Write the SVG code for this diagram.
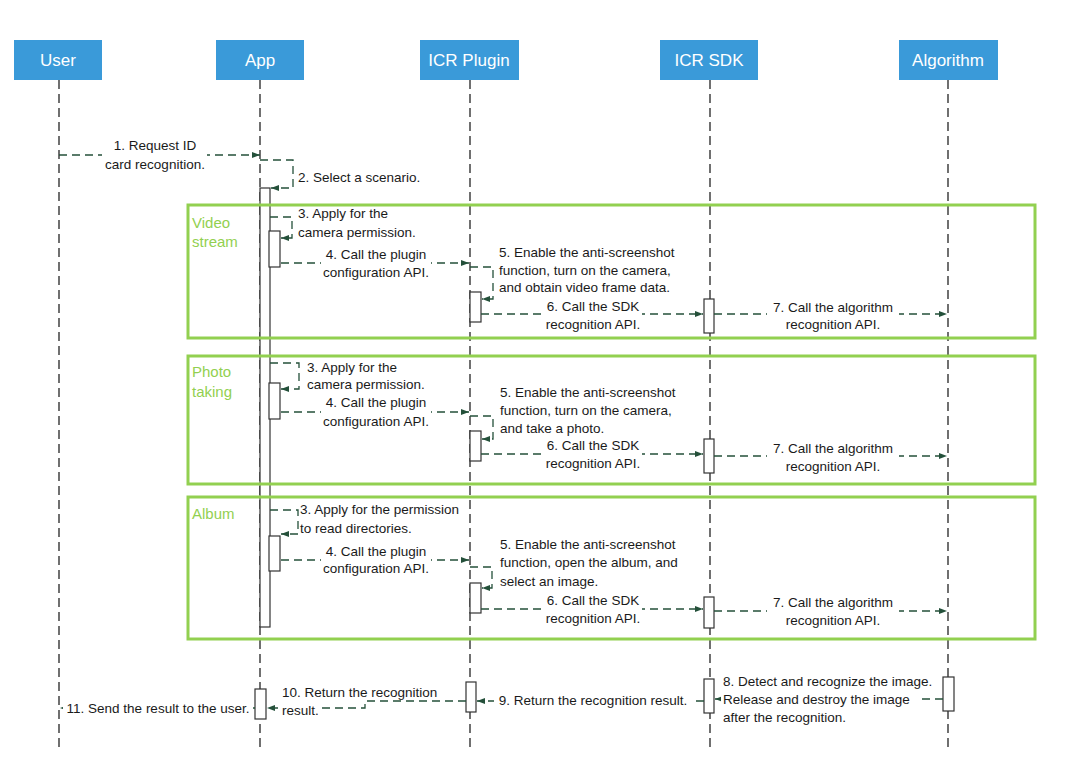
<svg xmlns="http://www.w3.org/2000/svg" width="1066" height="770" viewBox="0 0 1066 770">
<style>
.hdr{fill:#3a9ad9}
.hdrt{fill:#ffffff;font-family:"Liberation Sans",Arial,sans-serif;font-size:17px;text-anchor:middle}
.life{stroke:#111;stroke-width:1.2;stroke-dasharray:9 5;fill:none}
.act{fill:#ffffff;stroke:#333;stroke-width:1.2}
.frame{fill:none;stroke:#92d050;stroke-width:3}
.sec{fill:#92d050;font-family:"Liberation Sans",Arial,sans-serif;font-size:15px}
.msg{fill:none;stroke:#24503a;stroke-width:1.3;stroke-dasharray:8 5;marker-end:url(#ah)}
.lbl{fill:#1a1a1a;font-family:"Liberation Sans",Arial,sans-serif;font-size:13.5px}
.mid{text-anchor:middle}
.bg{fill:#ffffff}
</style>
<defs>
<marker id="ah" viewBox="0 0 8 6" refX="8" refY="3" markerWidth="8" markerHeight="6" markerUnits="userSpaceOnUse" orient="auto">
<path d="M0,0 L8,3 L0,6 z" fill="#24503a"/>
</marker>
</defs>
<rect width="1066" height="770" fill="#ffffff"/>

<g id="node-user">
<line class="life" x1="59" y1="80" x2="59" y2="752"/>
<rect class="hdr" x="14" y="40" width="88" height="40"/>
<text class="hdrt" x="58" y="66">User</text>
</g>
<g id="node-app">
<line class="life" x1="260" y1="80" x2="260" y2="752"/>
<rect class="hdr" x="216" y="40" width="88" height="40"/>
<text class="hdrt" x="260" y="66">App</text>
<rect class="act" x="260" y="188" width="10" height="439"/>
<rect class="act" x="269" y="231" width="11" height="36"/>
<rect class="act" x="269" y="383" width="11" height="36"/>
<rect class="act" x="269" y="536" width="11" height="35"/>
<rect class="act" x="255" y="689" width="11" height="30"/>
</g>
<g id="node-icr-plugin">
<line class="life" x1="470" y1="80" x2="470" y2="752"/>
<rect class="hdr" x="420" y="40" width="99" height="40"/>
<text class="hdrt" x="469" y="66">ICR Plugin</text>
<rect class="act" x="470" y="292" width="11" height="30"/>
<rect class="act" x="470" y="431" width="11" height="30"/>
<rect class="act" x="470" y="583" width="11" height="30"/>
<rect class="act" x="466" y="682" width="10" height="30"/>
</g>
<g id="node-icr-sdk">
<line class="life" x1="710" y1="80" x2="710" y2="752"/>
<rect class="hdr" x="660" y="40" width="98" height="40"/>
<text class="hdrt" x="709" y="66">ICR SDK</text>
<rect class="act" x="704" y="299" width="10" height="34"/>
<rect class="act" x="704" y="439" width="10" height="34"/>
<rect class="act" x="704" y="597" width="10" height="31"/>
<rect class="act" x="704" y="679" width="10" height="34"/>
</g>
<g id="node-algorithm">
<line class="life" x1="948" y1="80" x2="948" y2="752"/>
<rect class="hdr" x="899" y="40" width="99" height="40"/>
<text class="hdrt" x="948" y="66">Algorithm</text>
<rect class="act" x="943" y="677" width="11" height="34"/>
</g>

<g id="frame-video">
<rect class="frame" x="188" y="205" width="847" height="133"/>
<text class="sec" x="192" y="228">Video</text>
<text class="sec" x="192" y="247">stream</text>
</g>
<g id="frame-photo">
<rect class="frame" x="188" y="356" width="847" height="128"/>
<text class="sec" x="192" y="377">Photo</text>
<text class="sec" x="192" y="397">taking</text>
</g>
<g id="frame-album">
<rect class="frame" x="188" y="497" width="847" height="142"/>
<text class="sec" x="192" y="519">Album</text>
</g>

<g id="connectors">
<path class="msg" d="M59,155 H260"/>
<path class="msg" d="M260,160 H293 V188 H271"/>
<path class="msg" d="M270,217 H292 V238 H281"/>
<path class="msg" d="M281,263 H469"/>
<path class="msg" d="M470,267 H493 V299 H482"/>
<path class="msg" d="M481,314 H703"/>
<path class="msg" d="M714,314 H947"/>
<path class="msg" d="M270,363 H299 V389 H281"/>
<path class="msg" d="M281,412 H469"/>
<path class="msg" d="M470,416 H493 V439 H482"/>
<path class="msg" d="M481,454 H703"/>
<path class="msg" d="M714,456 H947"/>
<path class="msg" d="M270,510 H298 V534 H281"/>
<path class="msg" d="M281,560 H469"/>
<path class="msg" d="M470,567 H492 V588 H482"/>
<path class="msg" d="M481,609 H703"/>
<path class="msg" d="M714,611 H947"/>
<path class="msg" d="M943,699 H715"/>
<path class="msg" d="M704,701 H477"/>
<path class="msg" d="M466,701 H365 V708 H267"/>
<path class="msg" d="M255,708 H60"/>
</g>

<g id="labels">
<rect class="bg" x="102" y="138" width="105" height="35"/>
<text class="lbl mid" x="155" y="150">1. Request ID</text>
<text class="lbl mid" x="155" y="169">card recognition.</text>
<text class="lbl" x="298" y="182">2. Select a scenario.</text>

<text class="lbl" x="298" y="218">3. Apply for the</text>
<text class="lbl" x="298" y="237">camera permission.</text>
<rect class="bg" x="321" y="248" width="110" height="33"/>
<text class="lbl mid" x="376" y="259">4. Call the plugin</text>
<text class="lbl mid" x="376" y="277">configuration API.</text>
<text class="lbl" x="499" y="257">5. Enable the anti-screenshot</text>
<text class="lbl" x="499" y="275">function, turn on the camera,</text>
<text class="lbl" x="499" y="292">and obtain video frame data.</text>
<rect class="bg" x="543" y="300" width="99" height="33"/>
<text class="lbl mid" x="593" y="311">6. Call the SDK</text>
<text class="lbl mid" x="593" y="329">recognition API.</text>
<rect class="bg" x="767" y="301" width="132" height="32"/>
<text class="lbl mid" x="833" y="312">7. Call the algorithm</text>
<text class="lbl mid" x="833" y="329">recognition API.</text>

<text class="lbl" x="307" y="372">3. Apply for the</text>
<text class="lbl" x="307" y="389">camera permission.</text>
<rect class="bg" x="321" y="396" width="110" height="34"/>
<text class="lbl mid" x="376" y="407">4. Call the plugin</text>
<text class="lbl mid" x="376" y="426">configuration API.</text>
<text class="lbl" x="500" y="397">5. Enable the anti-screenshot</text>
<text class="lbl" x="500" y="415">function, turn on the camera,</text>
<text class="lbl" x="500" y="433">and take a photo.</text>
<rect class="bg" x="543" y="439" width="99" height="33"/>
<text class="lbl mid" x="593" y="450">6. Call the SDK</text>
<text class="lbl mid" x="593" y="468">recognition API.</text>
<rect class="bg" x="767" y="442" width="132" height="33"/>
<text class="lbl mid" x="833" y="453">7. Call the algorithm</text>
<text class="lbl mid" x="833" y="471">recognition API.</text>

<text class="lbl" x="300" y="514">3. Apply for the permission</text>
<text class="lbl" x="300" y="533">to read directories.</text>
<rect class="bg" x="321" y="545" width="110" height="32"/>
<text class="lbl mid" x="376" y="556">4. Call the plugin</text>
<text class="lbl mid" x="376" y="573">configuration API.</text>
<text class="lbl" x="500" y="549">5. Enable the anti-screenshot</text>
<text class="lbl" x="500" y="567">function, open the album, and</text>
<text class="lbl" x="500" y="586">select an image.</text>
<rect class="bg" x="543" y="594" width="99" height="33"/>
<text class="lbl mid" x="593" y="605">6. Call the SDK</text>
<text class="lbl mid" x="593" y="623">recognition API.</text>
<rect class="bg" x="767" y="596" width="132" height="33"/>
<text class="lbl mid" x="833" y="607">7. Call the algorithm</text>
<text class="lbl mid" x="833" y="625">recognition API.</text>

<rect class="bg" x="721" y="691" width="197" height="17"/>
<text class="lbl" x="723" y="686">8. Detect and recognize the image.</text>
<text class="lbl" x="723" y="704">Release and destroy the image</text>
<text class="lbl" x="723" y="722">after the recognition.</text>
<rect class="bg" x="494" y="692" width="199" height="17"/>
<text class="lbl mid" x="593" y="705">9. Return the recognition result.</text>
<rect class="bg" x="280" y="703" width="40" height="15"/>
<text class="lbl" x="282" y="697">10. Return the recognition</text>
<text class="lbl" x="282" y="715">result.</text>
<rect class="bg" x="63" y="700" width="190" height="17"/>
<text class="lbl mid" x="158" y="713">11. Send the result to the user.</text>
</g>
</svg>
